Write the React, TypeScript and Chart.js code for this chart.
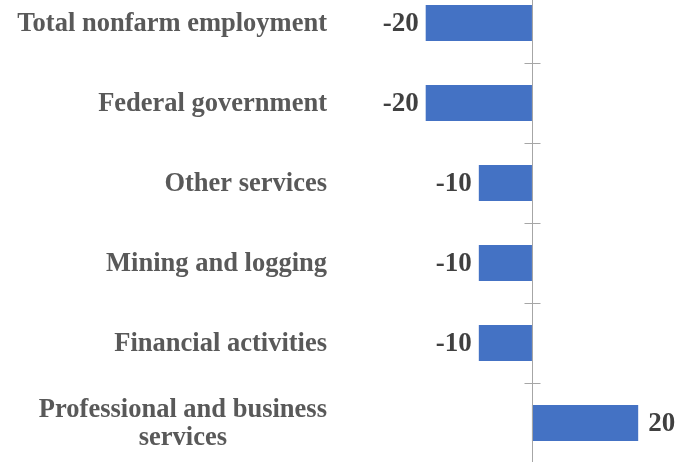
import React, { useEffect, useRef } from "react";
import { Chart, registerables } from "chart.js";

Chart.register(...registerables);

const categories: string[][] = [
  ["Total nonfarm employment"],
  ["Federal government"],
  ["Other services"],
  ["Mining and logging"],
  ["Financial activities"],
  ["Professional and business", "services"],
];
const values: number[] = [-20, -20, -10, -10, -10, 20];

const FONT = '"Liberation Serif", "Times New Roman", serif';

const overlay = {
  id: "overlay",
  afterDatasetsDraw(chart: any) {
    const ctx = chart.ctx;
    const x = chart.scales.x;
    const y = chart.scales.y;
    const area = chart.chartArea;
    const x0 = Math.round(x.getPixelForValue(0)) + 0.5;
    ctx.save();
    // zero axis line
    ctx.strokeStyle = "#a6a6a6";
    ctx.lineWidth = 1;
    ctx.beginPath();
    ctx.moveTo(x0, area.top);
    ctx.lineTo(x0, area.bottom);
    ctx.stroke();
    // crossing tick marks at category boundaries
    const n = categories.length;
    const step = y.getPixelForValue(1) - y.getPixelForValue(0);
    for (let i = 0; i <= n; i++) {
      const yy = i < n ? y.getPixelForValue(i) - step / 2 : y.getPixelForValue(n - 1) + step / 2;
      const py = Math.round(yy) + 0.5;
      ctx.beginPath();
      ctx.moveTo(x0 - 8, py);
      ctx.lineTo(x0 + 8, py);
      ctx.stroke();
    }
    // data labels
    ctx.font = `bold 27px ${FONT}`;
    ctx.fillStyle = "#404040";
    ctx.textBaseline = "middle";
    const meta = chart.getDatasetMeta(0);
    meta.data.forEach((bar: any, i: number) => {
      const v = values[i];
      const txt = String(v);
      if (v < 0) {
        ctx.textAlign = "right";
        ctx.fillText(txt, bar.x - 7, bar.y + 1);
      } else {
        ctx.textAlign = "left";
        ctx.fillText(txt, bar.x + 10, bar.y + 1);
      }
    });
    // category labels
    ctx.font = `bold 26.5px ${FONT}`;
    ctx.fillStyle = "#595959";
    ctx.textAlign = "center";
    const right = area.left - 19;
    const lh = 28;
    categories.forEach((lines, i) => {
      const cy = y.getPixelForValue(i);
      let maxW = 0;
      lines.forEach((l) => {
        maxW = Math.max(maxW, ctx.measureText(l).width);
      });
      const cx = right - maxW / 2;
      const start = cy - ((lines.length - 1) * lh) / 2;
      lines.forEach((l, j) => {
        ctx.fillText(l, cx, start + j * lh + 1);
      });
    });
    ctx.restore();
  },
};

export default function App() {
  const ref = useRef<HTMLCanvasElement>(null);
  useEffect(() => {
    if (!ref.current) return;
    const chart = new Chart(ref.current, {
      type: "bar",
      data: {
        labels: categories.map((c) => c.join(" ")),
        datasets: [
          {
            data: values,
            backgroundColor: "#4472C4",
            borderWidth: 0,
            barPercentage: 0.45,
            categoryPercentage: 1,
          },
        ],
      },
      options: {
        indexAxis: "y",
        animation: false,
        responsive: false,
        maintainAspectRatio: false,
        layout: { padding: { left: 346, right: 0, top: 0, bottom: 0 } },
        plugins: {
          legend: { display: false },
          tooltip: { enabled: false },
        },
        scales: {
          x: { display: false, min: -35, max: 29 },
          y: { display: false },
        },
      },
      plugins: [overlay],
    });
    return () => chart.destroy();
  }, []);
  return (
    <div style={{ position: "absolute", left: 0, top: -17, width: 686, height: 480 }}>
      <canvas ref={ref} width={686} height={480} style={{ width: 686, height: 480 }} />
    </div>
  );
}
